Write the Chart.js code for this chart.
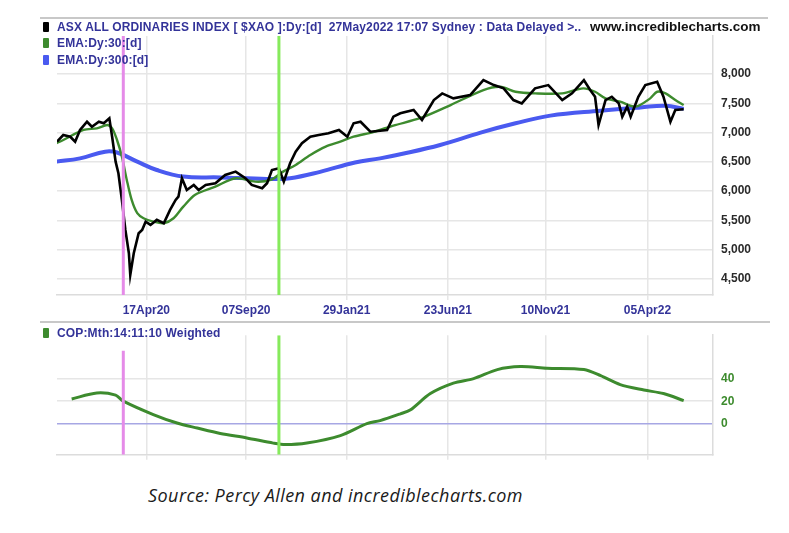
<!DOCTYPE html>
<html>
<head>
<meta charset="utf-8">
<script src="https://cdn.jsdelivr.net/npm/chart.js@4.4.1/dist/chart.umd.min.js"></script>
<style>
  html, body { margin: 0; padding: 0; background: #fff; }
  #wrap { position: relative; width: 789px; height: 533px; overflow: hidden; background: #fff; }
  canvas { position: absolute; left: 0; }
  .rule { position: absolute; left: 40px; height: 2px; background: #c8c8c8; }
  .leg { position: absolute; left: 43px; font: bold 12px "Liberation Sans", Arial, sans-serif;
         color: #333399; white-space: pre; line-height: 13px; letter-spacing: 0.15px; }
  .leg i { display: inline-block; width: 6px; height: 10px; border-radius: 1px;
           vertical-align: -1px; margin-right: 8px; }
  #site { position: absolute; left: 590px; top: 19px; font: bold 13.5px "Liberation Sans", Arial, sans-serif; color: #111; }
  #source { position: absolute; left: 148px; top: 483px; font: italic 18px "Open Sans", Lato, sans-serif;
            letter-spacing: 0.45px; color: #1a1a1a; }
</style>
</head>
<body>
<div id="wrap">
  <canvas id="priceChart" width="789" height="320" style="top:0"></canvas>
  <canvas id="copChart" width="789" height="150" style="top:320px"></canvas>

  <div class="rule" style="top:17px;width:728px"></div>
  <div class="rule" style="top:321px;width:730px"></div>

  <div class="leg" style="top:21px"><i style="background:#000"></i>ASX ALL ORDINARIES INDEX [ $XAO ]:Dy:[d]  27May2022 17:07 Sydney : Data Delayed &gt;..</div>
  <div class="leg" style="top:37px"><i style="background:#3d8b2e"></i>EMA:Dy:30:[d]</div>
  <div class="leg" style="top:54px"><i style="background:#4a5af0"></i>EMA:Dy:300:[d]</div>
  <div class="leg" style="top:327px"><i style="background:#3d8b2e"></i>COP:Mth:14:11:10 Weighted</div>
  <div id="site">www.incrediblecharts.com</div>
  <div id="source">Source: Percy Allen and incrediblecharts.com</div>
</div>

<script>
// x values are days counted from 1 Jan 2020
const tickDays = [107, 250, 394, 539, 679, 825];
const tickLabels = ['17Apr20', '07Sep20', '29Jan21', '23Jun21', '10Nov21', '05Apr22'];
const markerDays = [74, 297];          // magenta, green verticals
const priceTicks = [4500, 5000, 5500, 6000, 6500, 7000, 7500, 8000];
const copTicks = [0, 20, 40];

// daily close (black)
const closeDays = [-21, -12, -2, 5, 12, 22, 29, 39, 46, 54, 58, 63, 67, 72, 77, 82, 84, 89, 96, 101,
  106, 113, 122, 132, 141, 149, 153, 158, 165, 175, 182, 192, 206, 220, 235, 249, 258, 273, 280, 287,
  297, 304, 313, 321, 330, 342, 354, 368, 383, 395, 404, 414, 428, 452, 461, 471, 490, 502, 519, 531,
  547, 571, 590, 605, 619, 633, 645, 664, 683, 703, 717, 734, 743, 750, 755, 765, 774, 784, 789, 796,
  801, 812, 822, 839, 848, 858, 865, 877];
const closeVals = [6845, 6959, 6930, 6845, 7045, 7186, 7100, 7186, 7159, 7244, 6930, 6504, 6306, 5850, 5339, 4941, 4571, 4941, 5282, 5339,
  5480, 5424, 5510, 5453, 5680, 5850, 5907, 6221, 6021, 6106, 6021, 6106, 6135, 6277, 6334, 6221, 6106, 6050, 6135, 6362,
  6392, 6163, 6477, 6675, 6818, 6930, 6959, 6988, 7045, 6930, 7159, 7186, 7016, 7045, 7272, 7330, 7386, 7215, 7556, 7670,
  7585, 7642, 7898, 7812, 7756, 7556, 7500, 7756, 7812, 7556, 7670, 7898, 7727, 7613, 7130, 7556, 7613, 7500, 7272, 7443,
  7272, 7613, 7812, 7869, 7613, 7186, 7386, 7398];

// EMA 30 (green)
const ema30Days = [-22, -12, 17, 36, 51, 58, 65, 72, 79, 86, 94, 103, 117, 132, 146, 160, 177, 206, 235, 263,
  285, 303, 321, 342, 364, 385, 404, 432, 461, 500, 543, 590, 614, 636, 664, 703, 733, 750, 765, 786,
  808, 829, 839, 851, 865, 877];
const ema30Vals = [6818, 6874, 7045, 7073, 7130, 7073, 6874, 6590, 6192, 5850, 5624, 5538, 5480, 5453, 5538, 5736, 5940, 6078, 6221, 6163,
  6192, 6334, 6448, 6618, 6760, 6845, 6930, 7010, 7120, 7250, 7471, 7727, 7784, 7698, 7670, 7670, 7756, 7698, 7585, 7528,
  7443, 7585, 7698, 7670, 7556, 7471];

// EMA 300 (blue)
const ema300Days = [-22, 12, 48, 65, 94, 122, 160, 213, 280, 313, 356, 406, 442, 471, 528, 586, 636, 686, 758, 815, 851, 877];
const ema300Vals = [6504, 6560, 6675, 6660, 6504, 6362, 6250, 6235, 6209, 6221, 6330, 6490, 6560, 6630, 6789, 7000, 7159, 7290, 7374, 7430, 7460, 7405];

// COP monthly weighted (lower panel)
const copDays = [0, 36, 63, 74, 117, 151, 180, 213, 251, 289, 306, 337, 385, 423, 442, 471, 485, 514, 547, 576,
  610, 643, 681, 734, 758, 786, 820, 848, 877];
const copVals = [22, 27.2, 25.3, 20.1, 8.4, 1, -3.4, -8.1, -12, -16.5, -17.8, -16.5, -10, 0.5, 3.1, 9, 12.3, 26.7, 35.8, 39.7,
  47.6, 50.2, 48.8, 47.6, 42.3, 34.5, 29.8, 26.7, 20.6];

const X_MIN = -21, X_MAX = 919;
const P_MIN = 4227, P_MAX = 8650;
const C_MIN = -26.7, C_MAX = 77.6;

const NAVY = '#333399';
const GRID = '#e6e6e6';
const FONT = "'Liberation Sans', Arial, sans-serif";

function pts(days, vals) {
  return days.map((d, i) => ({ x: d, y: vals[i] }));
}

function markerSets(lo, hiMagenta, hiGreen) {
  return [
    { data: [{ x: markerDays[0], y: lo }, { x: markerDays[0], y: hiMagenta }], borderColor: '#e58be8', borderWidth: 3, order: 0 },
    { data: [{ x: markerDays[1], y: lo }, { x: markerDays[1], y: hiGreen }], borderColor: '#86ea5c', borderWidth: 3, order: 0 },
  ];
}

function xAxis(showLabels) {
  return {
    type: 'linear',
    min: X_MIN,
    max: X_MAX,
    afterBuildTicks: (s) => { s.ticks = tickDays.map((v) => ({ value: v })); },
    afterFit: (s) => { s.height = showLabels ? 25 : 5; },
    grid: { color: GRID, lineWidth: 1.5, tickLength: 5 },
    border: { display: true, color: '#dcdcdc', width: 1.5 },
    ticks: {
      display: showLabels,
      maxRotation: 0,
      padding: 3,
      color: NAVY,
      font: { family: FONT, size: 12, weight: 'bold' },
      callback: (v, i) => tickLabels[i],
    },
  };
}

const common = {
  responsive: false,
  animation: false,
  devicePixelRatio: 1,
  plugins: { legend: { display: false }, tooltip: { enabled: false } },
  elements: { point: { radius: 0 }, line: { fill: false } },
};

new Chart(document.getElementById('priceChart'), {
  type: 'line',
  data: {
    datasets: [
      { data: pts(closeDays, closeVals), borderColor: '#000', borderWidth: 2.6, tension: 0, order: 1 },
      { data: pts(ema30Days, ema30Vals), borderColor: '#3d8b2e', borderWidth: 2.4, tension: 0.3, order: 2 },
      { data: pts(ema300Days, ema300Vals), borderColor: '#4a5af0', borderWidth: 4, tension: 0.4, order: 3 },
      ...markerSets(P_MIN, P_MAX, P_MAX),
    ],
  },
  options: {
    ...common,
    layout: { padding: { left: 57, top: 36, right: 0, bottom: 0 } },
    scales: {
      x: xAxis(true),
      y: {
        position: 'right',
        min: P_MIN,
        max: P_MAX,
        afterBuildTicks: (s) => { s.ticks = priceTicks.map((v) => ({ value: v })); },
        afterFit: (s) => { s.width = 76; },
        grid: { color: GRID, lineWidth: 1.5, drawTicks: false },
        border: { display: true, color: '#dcdcdc', width: 1.5 },
        ticks: {
          padding: 8,
          color: '#2a2a2a',
          font: { family: FONT, size: 12, weight: 'bold' },
          callback: (v) => v.toLocaleString('en-US'),
        },
      },
    },
  },
});

new Chart(document.getElementById('copChart'), {
  type: 'line',
  data: {
    datasets: [
      { data: pts(copDays, copVals), borderColor: '#3d8b2e', borderWidth: 3, tension: 0.3, order: 1 },
      ...markerSets(C_MIN, 64, C_MAX),
    ],
  },
  options: {
    ...common,
    layout: { padding: { left: 57, top: 5, right: 0, bottom: 7 } },
    scales: {
      x: xAxis(false),
      y: {
        position: 'right',
        min: C_MIN,
        max: C_MAX,
        afterBuildTicks: (s) => { s.ticks = copTicks.map((v) => ({ value: v })); },
        afterFit: (s) => { s.width = 76; },
        grid: {
          color: (ctx) => (ctx.tick && ctx.tick.value === 0 ? '#a7a7e4' : GRID),
          lineWidth: 1.5,
          drawTicks: false,
        },
        border: { display: true, color: '#dcdcdc', width: 1.5 },
        ticks: {
          padding: 8,
          color: '#3d8b2e',
          font: { family: FONT, size: 12, weight: 'bold' },
        },
      },
    },
  },
});
</script>
</body>
</html>
